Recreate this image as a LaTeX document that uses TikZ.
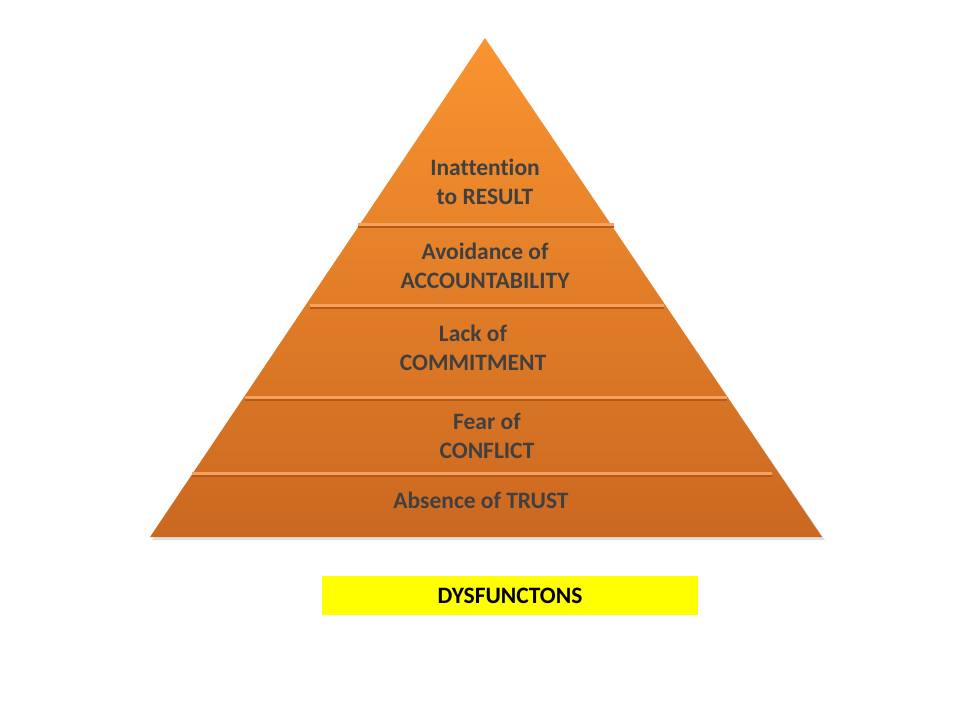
\documentclass[tikz,border=0pt]{standalone}
\usepackage{fontspec}
\setmainfont{Carlito}[Ligatures=NoCommon]
\usetikzlibrary{positioning}

\definecolor{pyrtop}{HTML}{F99430}
\definecolor{pyrbot}{HTML}{CB6820}
\definecolor{barlight}{HTML}{F7A25C}
\definecolor{bardark}{HTML}{B35A1A}
\definecolor{labelgray}{HTML}{404040}
\definecolor{tagyellow}{HTML}{FFFF00}

\tikzset{
  levellabel/.style={font=\bfseries\fontsize{23.5}{28.5}\selectfont, text=labelgray, align=center, inner sep=0pt},
}

\begin{document}
\begin{tikzpicture}[x=1pt, y=-1pt]
        	\useasboundingbox (0,0) rectangle (960,720);
        	% Pyramid body:
        	\fill[black!12] (485,41) -- (152,540) -- (825,540) -- cycle;
        	\shade[top color=pyrtop, bottom color=pyrbot] (485,38) -- (150,537) -- (822,537) -- cycle;
        	% Bevel bars between the levels:
        	\foreach \yy/\xl/\xr in {224/358/614, 305/310/664, 397/245/727, 473/192/772}{
        		\draw[bardark, line width=2.5pt] (\xl,\yy+2.4) -- (\xr,\yy+2.4);
        		\draw[barlight, line width=3pt] (\xl,\yy) -- (\xr,\yy);
        	}
        	% Level texts:
        	\node[levellabel] (result) at (485,182) {Inattention\\to RESULT};
        	\node[levellabel] (accountability) at (485,266) {Avoidance of\\ACCOUNTABILITY};
        	\node[levellabel] (commitment) at (473,348) {Lack of\\COMMITMENT};
        	\node[levellabel] (conflict) at (487,436) {Fear of\\CONFLICT};
        	\node[levellabel] (trust) at (481,500) {Absence of TRUST};
        	% Caption:
        	\fill[tagyellow] (322,576) rectangle (698,615);
        	\node[font=\bfseries\fontsize{23.5}{28}\selectfont, inner sep=0pt] (caption) at (510,596) {DYSFUNCTONS};
\end{tikzpicture}
\end{document}
